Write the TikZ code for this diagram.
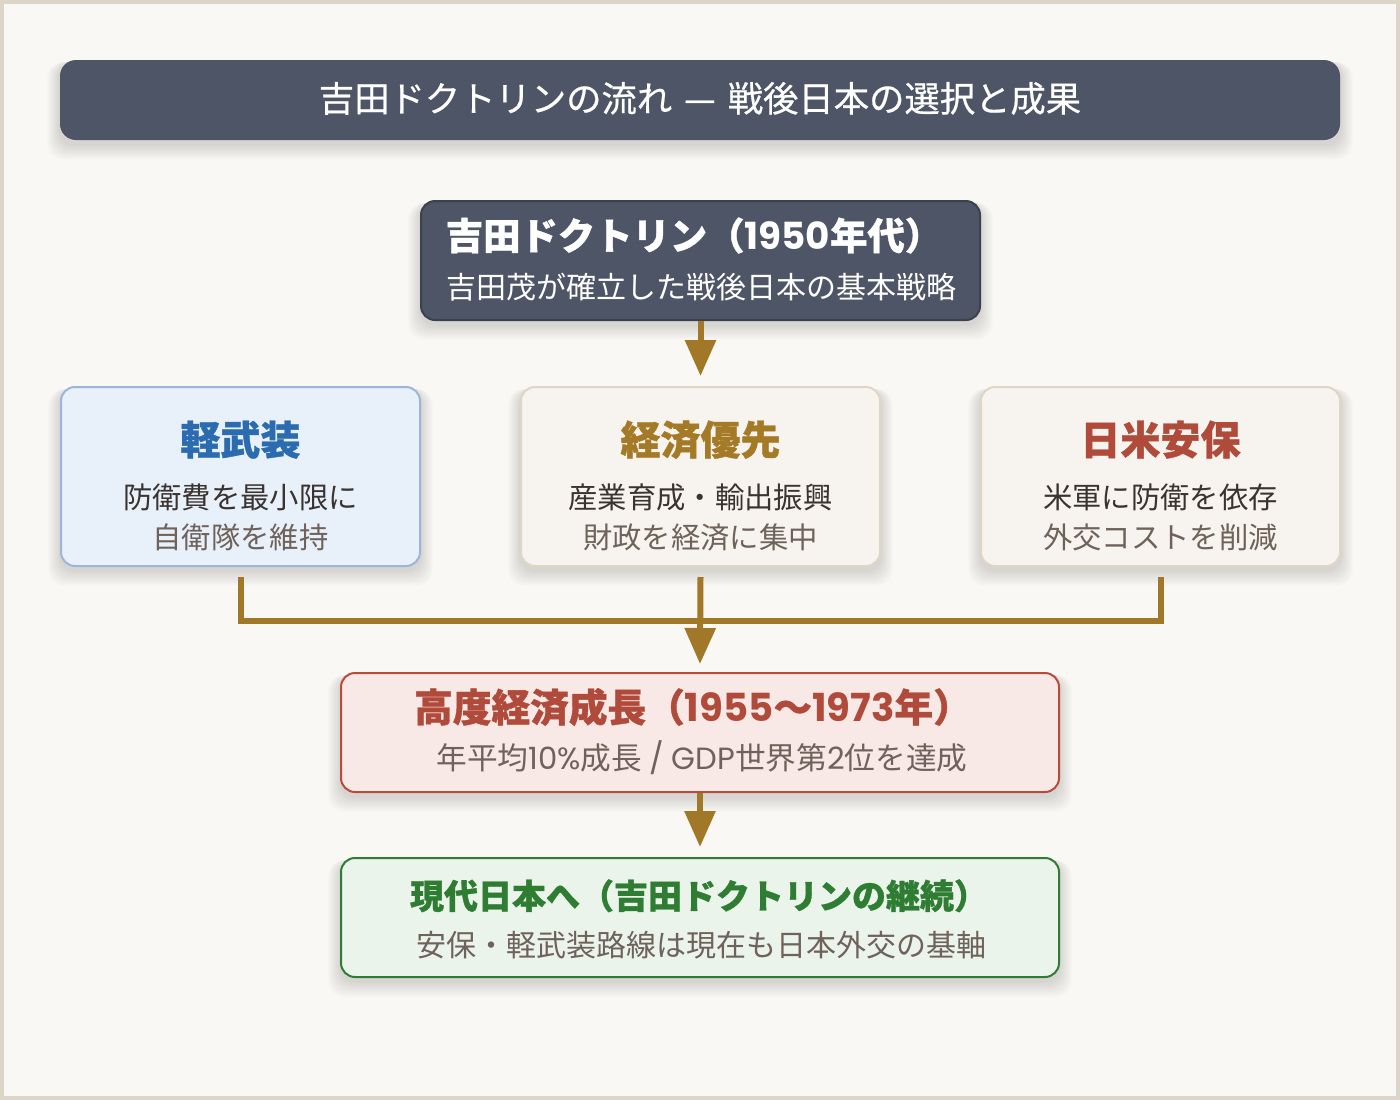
\documentclass[tikz,border=0pt]{standalone}
\usepackage{fontspec}
\setmainfont{Noto Sans CJK JP}[BoldFeatures={FakeBold=1}]
\newfontfamily\medfont{Noto Sans CJK JP}[FakeBold=0.6]
\newfontfamily\poppins{Poppins}
\newcommand\pn[1]{{\poppins #1}}
\usetikzlibrary{calc,arrows.meta}
\definecolor{framec}{HTML}{DDD5C8}
\definecolor{bgc}{HTML}{FAF8F4}
\definecolor{slate}{HTML}{4E5566}
\definecolor{slateb}{HTML}{3B414F}
\definecolor{goldc}{HTML}{A07828}
\definecolor{bluet}{HTML}{2B6CB0}
\definecolor{bluef}{HTML}{E8F0FA}
\definecolor{blueb}{HTML}{9DB5DA}
\definecolor{goldt}{HTML}{A57A26}
\definecolor{beigef}{HTML}{F7F3EE}
\definecolor{beigeb}{HTML}{E0D6C6}
\definecolor{redt}{HTML}{B04A3A}
\definecolor{redf}{HTML}{F8E8E6}
\definecolor{redb}{HTML}{B84C3C}
\definecolor{greent}{HTML}{2E7D32}
\definecolor{greenf}{HTML}{EAF4EA}
\definecolor{darkt}{HTML}{3A3330}
\definecolor{grayt}{HTML}{6E625A}
\newcommand\shd[4]{%
  \foreach \i in {1,...,7}{%
    \fill[black,opacity=0.02,rounded corners=12pt]
      ({#1-#3/2-\i*1.8},{#2-#4/2+2}) rectangle ({#1+#3/2+\i*1.8},{#2+#4/2+4+\i*2.2});}}
\tikzset{
  box/.style={rounded corners=10.5pt, line width=1.5pt, inner sep=0pt},
  txt/.style={inner sep=0pt, text height=0.88em, text depth=0.12em, yshift=-5pt},
  ttl/.style={txt, font=\fontsize{30}{30}\selectfont\bfseries},
  sub/.style={txt, font=\fontsize{22}{22}\selectfont},
  conn/.style={goldc, line width=4.5pt},
  arr/.style={conn, -{Triangle[width=22.5pt,length=27pt]}},
}
\begin{document}
\begin{tikzpicture}[x=0.75pt,y=-0.75pt]
\useasboundingbox (0,0) rectangle (1400,1100);
\fill[framec] (0,0) rectangle (1400,1100);
\fill[bgc] (4,4) rectangle (1396,1096);

% shadows
\shd{700}{100}{1280}{80}
\shd{700.5}{260.5}{559}{119}
\shd{240.5}{476.5}{359}{179}
\shd{700.5}{476.5}{359}{179}
\shd{1160.5}{476.5}{359}{179}
\shd{700}{732.5}{718}{119}
\shd{700}{917.5}{718}{119}

% title bar
\node[box, fill=slate, draw=none, minimum width=960pt, minimum height=60pt, rounded corners=12pt] (bar) at (700,100) {};
\node[txt, text=white, font=\fontsize{26.5}{26.5}\medfont] (bart) at (700,100) {吉田ドクトリンの流れ\hspace{9pt}—\hspace{9pt}戦後日本の選択と成果};

% top box
\node[box, fill=slate, draw=slateb, minimum width=419.25pt, minimum height=89.25pt] (top) at (700.5,260.5) {};
\node[txt, text=white, font=\fontsize{28}{28}\selectfont\bfseries] (topt) at (694,238) {吉田ドクトリン（\pn{1950}年代）};
\node[txt, text=white, font=\fontsize{22.5}{22.5}\selectfont] (tops) at (701,287) {吉田茂が確立した戦後日本の基本戦略};

% three boxes
\node[box, fill=bluef, draw=blueb, minimum width=269.25pt, minimum height=134.25pt] (b1) at (240.5,476.5) {};
\node[box, fill=beigef, draw=beigeb, minimum width=269.25pt, minimum height=134.25pt] (b2) at (700.5,476.5) {};
\node[box, fill=beigef, draw=beigeb, minimum width=269.25pt, minimum height=134.25pt] (b3) at (1160.5,476.5) {};

\node[ttl, text=bluet] (b1t) at (240.5,443) {軽武装};
\node[sub, text=darkt] (b1a) at (240.5,497) {防衛費を最小限に};
\node[sub, text=grayt] (b1b) at (240.5,537) {自衛隊を維持};

\node[ttl, text=goldt] (b2t) at (700.5,443) {経済優先};
\node[sub, text=darkt] (b2a) at (700.5,497) {産業育成・輸出振興};
\node[sub, text=grayt] (b2b) at (700.5,537) {財政を経済に集中};

\node[ttl, text=redt] (b3t) at (1160.5,443) {日米安保};
\node[sub, text=darkt] (b3a) at (1160.5,497) {米軍に防衛を依存};
\node[sub, text=grayt] (b3b) at (1160.5,537) {外交コストを削減};

% box 4
\node[box, fill=redf, draw=redb, minimum width=538.5pt, minimum height=89.25pt] (b4) at (700,732.5) {};
\node[txt, text=redt, font=\fontsize{29}{29}\selectfont\bfseries] (b4t) at (693,710) {高度経済成長（\pn{1955}〜\pn{1973}年）};
\node[txt, text=grayt, font=\fontsize{23}{23}\selectfont] (b4s) at (702,758) {年平均\pn{10\%}成長 \pn{/ GDP}世界第\pn{2}位を達成};

% box 5
\node[box, fill=greenf, draw=greent, minimum width=538.5pt, minimum height=89.25pt] (b5) at (700,917.5) {};
\node[txt, text=greent, font=\fontsize{25.5}{25.5}\selectfont\bfseries] (b5t) at (699,897) {現代日本へ（吉田ドクトリンの継続）};
\node[txt, text=grayt, font=\fontsize{22.5}{22.5}\selectfont] (b5s) at (701,945) {安保・軽武装路線は現在も日本外交の基軸};

% connectors
\draw[arr] (top.south) -- ($(b2.north)+(0,-10)$);
\draw[conn] ($(b1.south)+(0,10)$) |- ($(b3.south)+(0,54)$) -- ($(b3.south)+(0,10)$);
\draw[arr] ($(b2.south)+(0,10)$) -- ($(b4.north)+(0,-8)$);
\draw[arr] (b4.south) -- ($(b5.north)+(0,-10)$);
\end{tikzpicture}
\end{document}
